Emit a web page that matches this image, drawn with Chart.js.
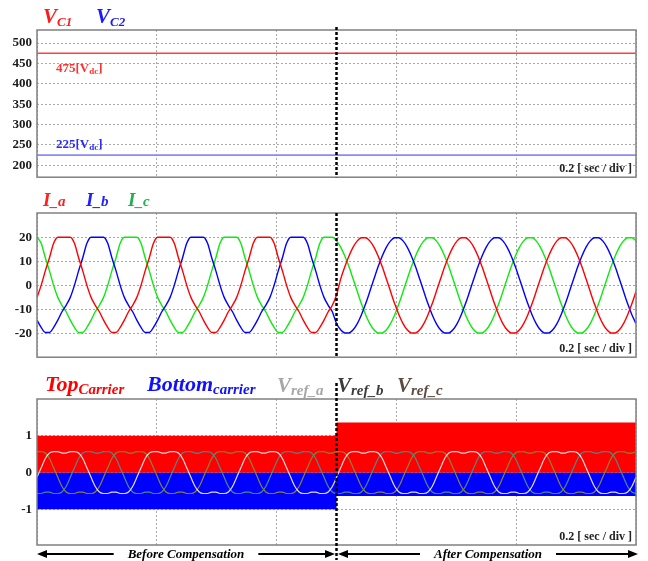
<!DOCTYPE html>
<html>
<head>
<meta charset="utf-8">
<script src="https://cdn.jsdelivr.net/npm/chart.js@4.4.1/dist/chart.umd.min.js"></script>
<style>
  body { margin: 0; background: #fff; }
  #wrap { position: relative; width: 648px; height: 561px; overflow: hidden; }
  canvas { position: absolute; left: 0; }
  .t { position: absolute; font-family: 'Liberation Serif', 'Times New Roman', serif; font-weight: bold; font-style: italic; line-height: 1; white-space: nowrap; }
  .t span { vertical-align: -3px; }
  .n { position: absolute; font-family: 'Liberation Serif', 'Times New Roman', serif; font-weight: bold; font-size: 13px; line-height: 1; white-space: nowrap; }
  .n sub { font-size: 9px; vertical-align: -2px; }
</style>
</head>
<body>
<div id="wrap">
  <canvas id="dcChart" width="648" height="190" style="top:0"></canvas>
  <canvas id="curChart" width="648" height="180" style="top:190px"></canvas>
  <canvas id="pwmChart" width="648" height="191" style="top:370px"></canvas>

  <div class="t" style="left:43px;top:6px;font-size:21px;color:#ff1a1a">V<span style="font-size:13px">C1</span></div>
  <div class="t" style="left:96px;top:6px;font-size:21px;color:#1a1aff">V<span style="font-size:13px">C2</span></div>
  <div class="n" style="left:56px;top:61px;color:#ff3030">475[V<sub>dc</sub>]</div>
  <div class="n" style="left:56px;top:137px;color:#2a2aff">225[V<sub>dc</sub>]</div>

  <div class="t" style="left:43px;top:190px;font-size:19px;color:#ff2020">I<span style="font-size:15px;vertical-align:0">_a</span></div>
  <div class="t" style="left:86px;top:190px;font-size:19px;color:#2020ff">I<span style="font-size:15px;vertical-align:0">_b</span></div>
  <div class="t" style="left:128px;top:190px;font-size:19px;color:#22b04a">I<span style="font-size:15px;vertical-align:0">_c</span></div>

  <div class="t" style="left:45px;top:373px;font-size:22px;color:#ff0000">Top<span style="font-size:15px">Carrier</span></div>
  <div class="t" style="left:147px;top:373px;font-size:22px;color:#1010ff">Bottom<span style="font-size:15px">carrier</span></div>
  <div class="t" style="left:277px;top:375px;font-size:21px;color:#a6a6a6">V<span style="font-size:15px">ref_a</span></div>
  <div class="t" style="left:337px;top:375px;font-size:21px;color:#3b3b3b">V<span style="font-size:15px">ref_b</span></div>
  <div class="t" style="left:397px;top:375px;font-size:21px;color:#5c4a3d">V<span style="font-size:15px">ref_c</span></div>
</div>

<script>
// time axis: 1 s shown, 0.2 s per division, compensation switched on at 0.5 s
const gridTimes = [0, 0.2, 0.4, 0.6, 0.8, 1.0];
const switchTime = 0.5;
const sampleStep = 1 / 144;   // samples of the waveforms below

// capacitor voltages
const dcTime = [0, 1];
const vc1Values = [475, 475];
const vc2Values = [225, 225];
const vcTicks = [500, 450, 400, 350, 300, 250, 200];

// phase currents (A)
const iaValues = [
  -5, 0, 6, 11.5, 17.5, 20, 20, 20, 20, 17.5, 11.5, 6, 0, -5, -8.3, -11, -14.5, -17.5, -19.6, -19.6, -17.5, -14.5, -11, -8.3,
  -5, 0, 6, 11.5, 17.5, 20, 20, 20, 20, 17.5, 11.5, 6, 0, -5, -8.3, -11, -14.5, -17.5, -19.6, -19.6, -17.5, -14.5, -11, -8.3,
  -5, 0, 6, 11.5, 17.5, 20, 20, 20, 20, 17.5, 11.5, 6, 0, -5, -8.3, -11, -14.5, -17.5, -19.6, -19.6, -17.5, -14.5, -11, -8.3,
  -4, 2.6, 7.7, 12.2, 15.9, 18.5, 19.8, 19.8, 18.5, 15.9, 12.2, 7.7, 2.6, -2.6, -7.7, -12.2, -15.9, -18.5, -19.8, -19.8, -18.5, -15.9, -12.2, -7.7,
  -2.6, 2.6, 7.7, 12.2, 15.9, 18.5, 19.8, 19.8, 18.5, 15.9, 12.2, 7.7, 2.6, -2.6, -7.7, -12.2, -15.9, -18.5, -19.8, -19.8, -18.5, -15.9, -12.2, -7.7,
  -2.6, 2.6, 7.7, 12.2, 15.9, 18.5, 19.8, 19.8, 18.5, 15.9, 12.2, 7.7, 2.6, -2.6, -7.7, -12.2, -15.9, -18.5, -19.8, -19.8, -18.5, -15.9, -12.2, -7.7,
  -2.6
];
const ibValues = [
  -14.5, -17.5, -19.6, -19.6, -17.5, -14.5, -11, -8.3, -5, 0, 6, 11.5, 17.5, 20, 20, 20, 20, 17.5, 11.5, 6, 0, -5, -8.3, -11,
  -14.5, -17.5, -19.6, -19.6, -17.5, -14.5, -11, -8.3, -5, 0, 6, 11.5, 17.5, 20, 20, 20, 20, 17.5, 11.5, 6, 0, -5, -8.3, -11,
  -14.5, -17.5, -19.6, -19.6, -17.5, -14.5, -11, -8.3, -5, 0, 6, 11.5, 17.5, 20, 20, 20, 20, 17.5, 11.5, 6, 0, -5, -8.3, -11,
  -15.9, -18.5, -19.8, -19.8, -18.5, -15.9, -12.2, -7.7, -2.6, 2.6, 7.7, 12.2, 15.9, 18.5, 19.8, 19.8, 18.5, 15.9, 12.2, 7.7, 2.6, -2.6, -7.7, -12.2,
  -15.9, -18.5, -19.8, -19.8, -18.5, -15.9, -12.2, -7.7, -2.6, 2.6, 7.7, 12.2, 15.9, 18.5, 19.8, 19.8, 18.5, 15.9, 12.2, 7.7, 2.6, -2.6, -7.7, -12.2,
  -15.9, -18.5, -19.8, -19.8, -18.5, -15.9, -12.2, -7.7, -2.6, 2.6, 7.7, 12.2, 15.9, 18.5, 19.8, 19.8, 18.5, 15.9, 12.2, 7.7, 2.6, -2.6, -7.7, -12.2,
  -15.9
];
const icValues = [
  20, 17.5, 11.5, 6, 0, -5, -8.3, -11, -14.5, -17.5, -19.6, -19.6, -17.5, -14.5, -11, -8.3, -5, 0, 6, 11.5, 17.5, 20, 20, 20,
  20, 17.5, 11.5, 6, 0, -5, -8.3, -11, -14.5, -17.5, -19.6, -19.6, -17.5, -14.5, -11, -8.3, -5, 0, 6, 11.5, 17.5, 20, 20, 20,
  20, 17.5, 11.5, 6, 0, -5, -8.3, -11, -14.5, -17.5, -19.6, -19.6, -17.5, -14.5, -11, -8.3, -5, 0, 6, 11.5, 17.5, 20, 20, 20,
  18.5, 15.9, 12.2, 7.7, 2.6, -2.6, -7.7, -12.2, -15.9, -18.5, -19.8, -19.8, -18.5, -15.9, -12.2, -7.7, -2.6, 2.6, 7.7, 12.2, 15.9, 18.5, 19.8, 19.8,
  18.5, 15.9, 12.2, 7.7, 2.6, -2.6, -7.7, -12.2, -15.9, -18.5, -19.8, -19.8, -18.5, -15.9, -12.2, -7.7, -2.6, 2.6, 7.7, 12.2, 15.9, 18.5, 19.8, 19.8,
  18.5, 15.9, 12.2, 7.7, 2.6, -2.6, -7.7, -12.2, -15.9, -18.5, -19.8, -19.8, -18.5, -15.9, -12.2, -7.7, -2.6, 2.6, 7.7, 12.2, 15.9, 18.5, 19.8, 19.8,
  18.5
];
const currentTicks = [20, 10, 0, -10, -20];

// carrier envelopes (top carrier 0..peak, bottom carrier trough..0)
const carrierTime = [0, 0.5, 0.5, 1];
const topCarrierPeak = [1, 1, 1.36, 1.36];
const bottomCarrierTrough = [-1, -1, -0.64, -0.64];

// reference voltages (per unit)
const vrefA = [
  -0.13, 0.13, 0.38, 0.53, 0.57, 0.57, 0.53, 0.53, 0.57, 0.57, 0.53, 0.38, 0.13, -0.13, -0.38, -0.53, -0.57, -0.57, -0.53, -0.53, -0.57, -0.57, -0.53, -0.38,
  -0.13, 0.13, 0.38, 0.53, 0.57, 0.57, 0.53, 0.53, 0.57, 0.57, 0.53, 0.38, 0.13, -0.13, -0.38, -0.53, -0.57, -0.57, -0.53, -0.53, -0.57, -0.57, -0.53, -0.38,
  -0.13, 0.13, 0.38, 0.53, 0.57, 0.57, 0.53, 0.53, 0.57, 0.57, 0.53, 0.38, 0.13, -0.13, -0.38, -0.53, -0.57, -0.57, -0.53, -0.53, -0.57, -0.57, -0.53, -0.38,
  -0.13, 0.13, 0.38, 0.53, 0.57, 0.57, 0.53, 0.53, 0.57, 0.57, 0.53, 0.38, 0.13, -0.13, -0.38, -0.53, -0.57, -0.57, -0.53, -0.53, -0.57, -0.57, -0.53, -0.38,
  -0.13, 0.13, 0.38, 0.53, 0.57, 0.57, 0.53, 0.53, 0.57, 0.57, 0.53, 0.38, 0.13, -0.13, -0.38, -0.53, -0.57, -0.57, -0.53, -0.53, -0.57, -0.57, -0.53, -0.38,
  -0.13, 0.13, 0.38, 0.53, 0.57, 0.57, 0.53, 0.53, 0.57, 0.57, 0.53, 0.38, 0.13, -0.13, -0.38, -0.53, -0.57, -0.57, -0.53, -0.53, -0.57, -0.57, -0.53, -0.38,
  -0.13
];
const vrefB = [
  -0.57, -0.57, -0.53, -0.53, -0.57, -0.57, -0.53, -0.38, -0.13, 0.13, 0.38, 0.53, 0.57, 0.57, 0.53, 0.53, 0.57, 0.57, 0.53, 0.38, 0.13, -0.13, -0.38, -0.53,
  -0.57, -0.57, -0.53, -0.53, -0.57, -0.57, -0.53, -0.38, -0.13, 0.13, 0.38, 0.53, 0.57, 0.57, 0.53, 0.53, 0.57, 0.57, 0.53, 0.38, 0.13, -0.13, -0.38, -0.53,
  -0.57, -0.57, -0.53, -0.53, -0.57, -0.57, -0.53, -0.38, -0.13, 0.13, 0.38, 0.53, 0.57, 0.57, 0.53, 0.53, 0.57, 0.57, 0.53, 0.38, 0.13, -0.13, -0.38, -0.53,
  -0.57, -0.57, -0.53, -0.53, -0.57, -0.57, -0.53, -0.38, -0.13, 0.13, 0.38, 0.53, 0.57, 0.57, 0.53, 0.53, 0.57, 0.57, 0.53, 0.38, 0.13, -0.13, -0.38, -0.53,
  -0.57, -0.57, -0.53, -0.53, -0.57, -0.57, -0.53, -0.38, -0.13, 0.13, 0.38, 0.53, 0.57, 0.57, 0.53, 0.53, 0.57, 0.57, 0.53, 0.38, 0.13, -0.13, -0.38, -0.53,
  -0.57, -0.57, -0.53, -0.53, -0.57, -0.57, -0.53, -0.38, -0.13, 0.13, 0.38, 0.53, 0.57, 0.57, 0.53, 0.53, 0.57, 0.57, 0.53, 0.38, 0.13, -0.13, -0.38, -0.53,
  -0.57
];
const vrefC = [
  0.57, 0.57, 0.53, 0.38, 0.13, -0.13, -0.38, -0.53, -0.57, -0.57, -0.53, -0.53, -0.57, -0.57, -0.53, -0.38, -0.13, 0.13, 0.38, 0.53, 0.57, 0.57, 0.53, 0.53,
  0.57, 0.57, 0.53, 0.38, 0.13, -0.13, -0.38, -0.53, -0.57, -0.57, -0.53, -0.53, -0.57, -0.57, -0.53, -0.38, -0.13, 0.13, 0.38, 0.53, 0.57, 0.57, 0.53, 0.53,
  0.57, 0.57, 0.53, 0.38, 0.13, -0.13, -0.38, -0.53, -0.57, -0.57, -0.53, -0.53, -0.57, -0.57, -0.53, -0.38, -0.13, 0.13, 0.38, 0.53, 0.57, 0.57, 0.53, 0.53,
  0.57, 0.57, 0.53, 0.38, 0.13, -0.13, -0.38, -0.53, -0.57, -0.57, -0.53, -0.53, -0.57, -0.57, -0.53, -0.38, -0.13, 0.13, 0.38, 0.53, 0.57, 0.57, 0.53, 0.53,
  0.57, 0.57, 0.53, 0.38, 0.13, -0.13, -0.38, -0.53, -0.57, -0.57, -0.53, -0.53, -0.57, -0.57, -0.53, -0.38, -0.13, 0.13, 0.38, 0.53, 0.57, 0.57, 0.53, 0.53,
  0.57, 0.57, 0.53, 0.38, 0.13, -0.13, -0.38, -0.53, -0.57, -0.57, -0.53, -0.53, -0.57, -0.57, -0.53, -0.38, -0.13, 0.13, 0.38, 0.53, 0.57, 0.57, 0.53, 0.53,
  0.57
];
const carrierTicks = [1, 0, -1];

const SERIF = "'Liberation Serif', 'Times New Roman', serif";

function sampled(values) {
  return values.map((v, i) => ({ x: i * sampleStep, y: v }));
}
function paired(times, values) {
  return times.map((t, i) => ({ x: t, y: values[i] }));
}

// frame, compensation marker and the time/div note
const scopePlugin = {
  id: 'scope',
  afterDatasetsDraw(chart, args, opts) {
    const { ctx, chartArea: a } = chart;
    ctx.save();
    ctx.strokeStyle = '#808080';
    ctx.lineWidth = 1.5;
    ctx.strokeRect(a.left, a.top, a.right - a.left, a.bottom - a.top);

    const xs = chart.scales.x.getPixelForValue(switchTime);
    ctx.strokeStyle = '#000';
    ctx.lineWidth = 2.5;
    ctx.setLineDash([3, 2]);
    ctx.beginPath();
    ctx.moveTo(xs, a.top - (opts.above || 0));
    ctx.lineTo(xs, a.bottom + (opts.below || 0));
    ctx.stroke();
    ctx.setLineDash([]);

    ctx.fillStyle = '#222';
    ctx.font = 'bold 12px ' + SERIF;
    ctx.textAlign = 'right';
    ctx.textBaseline = 'alphabetic';
    ctx.fillText('0.2 [ sec / div ]', a.right - 4, a.bottom - 5);
    ctx.restore();
  }
};

// before / after arrows under the last panel
const arrowPlugin = {
  id: 'arrows',
  afterDraw(chart) {
    const { ctx, chartArea: a } = chart;
    const x = chart.scales.x;
    const y = a.bottom + 9;
    ctx.save();
    ctx.font = 'bold italic 13px ' + SERIF;
    ctx.fillStyle = '#000';
    ctx.strokeStyle = '#000';
    ctx.lineWidth = 2;
    ctx.textAlign = 'center';
    ctx.textBaseline = 'middle';
    const spans = [
      [x.getPixelForValue(0), x.getPixelForValue(switchTime) - 1.5, 'Before Compensation'],
      [x.getPixelForValue(switchTime) + 1.5, x.getPixelForValue(1) + 2, 'After Compensation']
    ];
    spans.forEach(([x0, x1, label]) => {
      const mid = (x0 + x1) / 2;
      const w = ctx.measureText(label).width;
      ctx.fillText(label, mid, y + 1);
      ctx.beginPath();
      ctx.moveTo(x0 + 8, y); ctx.lineTo(mid - w / 2 - 14, y);
      ctx.moveTo(mid + w / 2 + 14, y); ctx.lineTo(x1 - 8, y);
      ctx.stroke();
      ctx.beginPath();
      ctx.moveTo(x0, y); ctx.lineTo(x0 + 10, y - 4); ctx.lineTo(x0 + 10, y + 4); ctx.closePath();
      ctx.moveTo(x1, y); ctx.lineTo(x1 - 10, y - 4); ctx.lineTo(x1 - 10, y + 4); ctx.closePath();
      ctx.fill();
    });
    ctx.restore();
  }
};

function scopeOptions(yMin, yMax, yTicks, padTop, padBottom, marker) {
  return {
    responsive: false,
    animation: false,
    layout: { padding: { top: padTop, bottom: padBottom, left: 0, right: 12 } },
    plugins: { legend: { display: false }, tooltip: { enabled: false }, scope: marker },
    elements: { point: { radius: 0 }, line: { cubicInterpolationMode: 'monotone' } },
    scales: {
      x: {
        type: 'linear', min: 0, max: 1,
        afterBuildTicks: s => { s.ticks = gridTimes.map(v => ({ value: v })); },
        afterFit: s => { s.height = 0; },
        ticks: { display: false },
        grid: { color: '#a8a8a8', lineWidth: 1, drawTicks: false },
        border: { display: false, dash: [2, 2] }
      },
      y: {
        min: yMin, max: yMax,
        afterBuildTicks: s => { s.ticks = yTicks.map(v => ({ value: v })); },
        afterFit: s => { s.width = 37; },
        ticks: { color: '#1a1a1a', padding: 5, font: { family: SERIF, weight: 'bold', size: 13 } },
        grid: { color: '#a8a8a8', lineWidth: 1, drawTicks: false },
        border: { display: false, dash: [2, 2] }
      }
    }
  };
}

new Chart(document.getElementById('dcChart'), {
  type: 'line',
  data: {
    datasets: [
      { data: paired(dcTime, vc1Values), borderColor: '#ff4040', borderWidth: 1.6 },
      { data: paired(dcTime, vc2Values), borderColor: '#8a8aff', borderWidth: 1.8 }
    ]
  },
  options: scopeOptions(171, 532, vcTicks, 30, 12, { above: 3, below: 0 }),
  plugins: [scopePlugin]
});

new Chart(document.getElementById('curChart'), {
  type: 'line',
  data: {
    datasets: [
      { data: sampled(iaValues), borderColor: '#ff0000', borderWidth: 1.4 },
      { data: sampled(ibValues), borderColor: '#0000ff', borderWidth: 1.4 },
      { data: sampled(icValues), borderColor: '#10e810', borderWidth: 1.4 }
    ]
  },
  options: scopeOptions(-29.9, 30.1, currentTicks, 23, 7, { above: 0, below: 0 }),
  plugins: [scopePlugin]
});

new Chart(document.getElementById('pwmChart'), {
  type: 'line',
  data: {
    datasets: [
      { data: sampled(vrefA), borderColor: '#e4dede', borderWidth: 1.2 },
      { data: sampled(vrefB), borderColor: '#4c8a8a', borderWidth: 1.2 },
      { data: sampled(vrefC), borderColor: '#8a8438', borderWidth: 1.2 },
      { data: paired(carrierTime, topCarrierPeak), borderWidth: 0, backgroundColor: '#ff0000', fill: 'origin', cubicInterpolationMode: 'default', tension: 0 },
      { data: paired(carrierTime, bottomCarrierTrough), borderWidth: 0, backgroundColor: '#0000ff', fill: 'origin', cubicInterpolationMode: 'default', tension: 0 }
    ]
  },
  options: scopeOptions(-1.97, 2.0, carrierTicks, 29, 16, { above: 16, below: 15 }),
  plugins: [scopePlugin, arrowPlugin]
});
</script>
</body>
</html>
